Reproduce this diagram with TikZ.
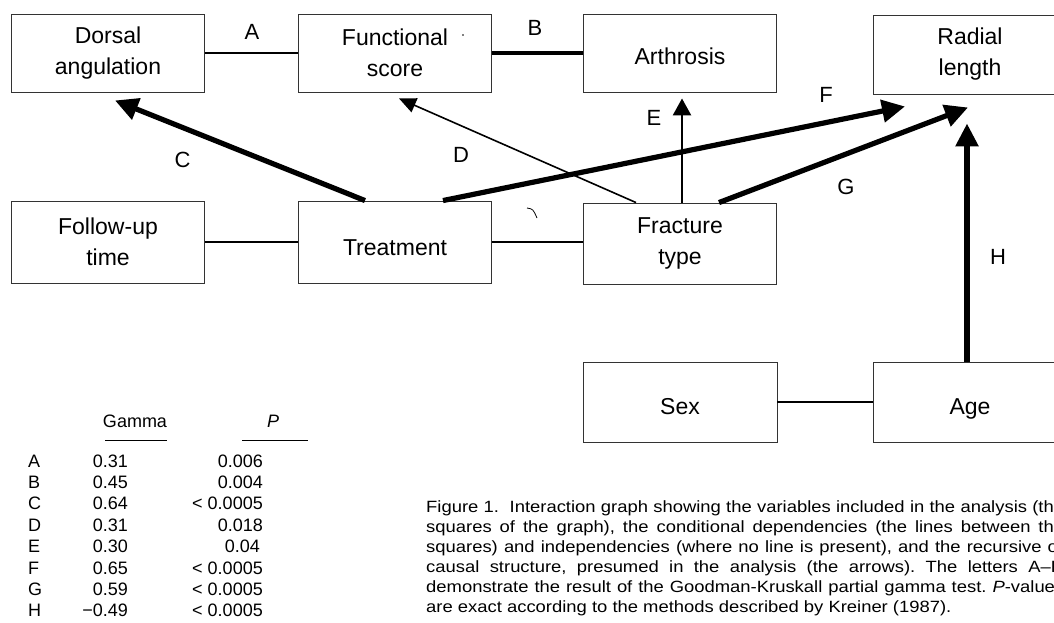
\documentclass[tikz,border=0pt]{standalone}
\usepackage{fontspec}
\usepackage{graphicx}
\setmainfont{Liberation Sans}
\usetikzlibrary{arrows.meta,calc}
\frenchspacing
\begin{document}
\begin{tikzpicture}[x=1pt,y=-1pt,
  box/.style={draw=black!80,line width=0.9pt,minimum width=193pt,minimum height=80pt,inner sep=0pt,align=center,font=\fontsize{23}{31}\selectfont},
  topbox/.style={box,minimum height=78pt},
  oneline/.style={text height=24pt,text depth=0pt},
  lbl/.style={font=\fontsize{22}{26}\selectfont,inner sep=0pt},
  tbl/.style={font=\fontsize{18}{21}\selectfont,inner sep=0pt,anchor=base},
  captext/.style={font=\fontsize{16.3}{20}\selectfont,inner sep=0pt,anchor=base west},
  thinedge/.style={line width=1.6pt},
  midedge/.style={line width=3.3pt},
  bigarrow/.style={line width=5.2pt,-{Triangle[length=23pt,width=22pt]}},
  smallarrow/.style={line width=1.6pt,-{Triangle[length=17pt,width=15pt]}},
  medarrow/.style={line width=2.6pt,-{Triangle[length=17pt,width=18pt]}}
]
\clip (0,0) rectangle (1054,622);

% boxes
\node[topbox] (dorsal) at (108,53) {Dorsal\\angulation};
\node[topbox] (functional) at (395,53) {Functional\\score};
\node[topbox,text height=22pt,text depth=0pt] (arthrosis) at (680,53.7) {Arthrosis};
\node[topbox,minimum height=79pt,minimum width=194pt] (radial) at (970,54.5) {Radial\\length};
\node[box,minimum height=82pt] (followup) at (108,242) {Follow-up\\time};
\node[box,minimum height=82pt,text height=26pt,text depth=0pt] (treatment) at (395,242) {Treatment};
\node[box,minimum height=81pt] (fracture) at (680,243.5) {Fracture\\type};
\node[box,minimum width=194pt,oneline] (sex) at (680,402) {Sex};
\node[box,minimum width=194pt,oneline] (age) at (970,402) {Age};

% undirected edges
\draw[thinedge] (dorsal.east) -- (functional.west);
\draw[midedge] (functional.east) -- (functional.east -| arthrosis.west);
\draw[thinedge] (followup.east) -- (treatment.west);
\draw[thinedge] (treatment.east) -- (treatment.east -| fracture.west);
\draw[thinedge] (sex.east) -- (age.west);

% arrows
\draw[bigarrow] ($(treatment.north)+(-30,0)$) -- ($(dorsal.south)+(7,8)$);
\draw[smallarrow] ($(fracture.north)+(-44,0)$) -- ($(functional.south)+(4,6)$);
\draw[medarrow] ($(fracture.north)+(2,0)$) -- ($(arthrosis.south)+(2,5.3)$);
\draw[bigarrow] ($(treatment.north)+(48,0)$) -- ($(radial.south)+(-65,12)$);
\draw[bigarrow] ($(fracture.north)+(39,0)$) -- ($(radial.south)+(-2,13)$);
\draw[line width=5.6pt,-{Triangle[length=23pt,width=22pt]}] ($(age.north)+(-3,0)$) -- ($(radial.south)+(-3,29)$);

% edge labels
\node[lbl] (la) at (252,32) {A};
\node[lbl] (lb) at (535,28) {B};
\node[lbl] (lc) at (182.5,160) {C};
\node[lbl] (ld) at (461,155) {D};
\node[lbl] (le) at (654,118) {E};
\node[lbl] (lf) at (826,95) {F};
\node[lbl] (lg) at (846,187) {G};
\node[lbl] (lh) at (998,257) {H};

% scan marks
\draw[line width=0.8pt] (527,208) .. controls (533,209) .. (537,218);
\fill (463,35) circle (0.8pt);

% table
\node[tbl] (hgamma) at (135,427) {Gamma};
\node[tbl] (hp) at (273,427) {\itshape P};
\draw[line width=0.8pt] (105,440) -- (167,440);
\draw[line width=0.8pt] (242,440) -- (308,440);
\foreach \l/\g/\p/\px [count=\i from 0] in {A/0.31/0.006/263, B/0.45/0.004/263, C/0.64/{< 0.0005}/263, D/0.31/0.018/263, E/0.30/0.04/260, F/0.65/{< 0.0005}/263, G/0.59/{< 0.0005}/263, H/{\char"2212 0.49}/{< 0.0005}/263}{
  \pgfmathsetmacro{\ry}{467+21.4*\i}
  \node[tbl,anchor=base west] (r\l) at (28,\ry) {\l};
  \node[tbl,anchor=base east] (g\l) at (128,\ry) {\g};
  \node[tbl,anchor=base east] (p\l) at (\px,\ry) {\p};
}

% caption
\node[captext] (c1) at (426,512) {\scalebox{1.13}[1]{\makebox[564.6pt][s]{Figure 1.\ \ Interaction graph showing the variables included in the analysis (the}}};
\node[captext] (c2) at (426,532) {\scalebox{1.13}[1]{\makebox[564.6pt][s]{squares of the graph), the conditional dependencies (the lines between the}}};
\node[captext] (c3) at (426,552) {\scalebox{1.13}[1]{\makebox[564.6pt][s]{squares) and independencies (where no line is present), and the recursive or}}};
\node[captext] (c4) at (426,572) {\scalebox{1.13}[1]{\makebox[564.6pt][s]{causal structure, presumed in the analysis (the arrows). The letters A–H}}};
\node[captext] (c5) at (426,592) {\scalebox{1.13}[1]{\makebox[564.6pt][s]{demonstrate the result of the Goodman-Kruskall partial gamma test. \textit{P}-values}}};
\node[captext] (c6) at (426,612) {\scalebox{1.13}[1]{are exact according to the methods described by Kreiner (1987).}};
\end{tikzpicture}
\end{document}
